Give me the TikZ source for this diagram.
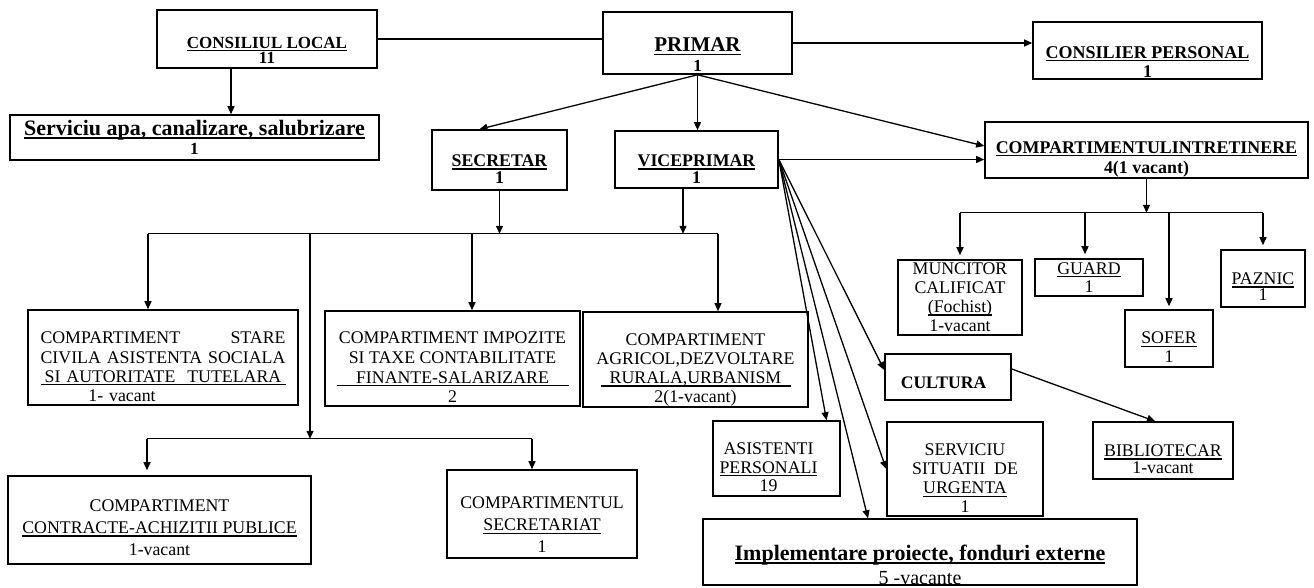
\documentclass[tikz,border=0pt]{standalone}
\usepackage{fontspec}
\setmainfont{Liberation Serif}
\usetikzlibrary{arrows.meta,calc}
\newsavebox\ulbox
\newcommand\uln[1]{\leavevmode\sbox\ulbox{#1}\rlap{\rule[-3pt]{\wd\ulbox}{1.4pt}}\usebox\ulbox}
\newcommand\ulnw[2]{\leavevmode\sbox\ulbox{\makebox[#1]{#2}}\rlap{\rule[-3pt]{\wd\ulbox}{1.4pt}}\usebox\ulbox}
\begin{document}
\begin{tikzpicture}[x=1pt,y=-1pt,
  box/.style={draw, line width=1.6pt, inner sep=0pt},
  fs/.style 2 args={align=center, inner sep=0pt, font=\fontsize{#1}{#2}\selectfont},
  fb/.style 2 args={align=center, inner sep=0pt, font=\fontsize{#1}{#2}\selectfont\bfseries},
  ln/.style={line width=1.3pt},
  arr/.style={ln, -{Triangle[length=8pt,width=7pt]}}]
\useasboundingbox (0,0) rectangle (1314,587);

% ---- boxes ----
\node[box, minimum width=220pt, minimum height=58pt] (cl) at (267,39) {};
\node[fb={17}{14}] at ([yshift=-11pt]cl.center) {\uln{CONSILIUL LOCAL}\\11};

\node[box, minimum width=369pt, minimum height=45pt] (sa) at (194.5,137.5) {};
\node[fb={22}{19}] at (sa.center) {\uln{Serviciu apa, canalizare, salubrizare}\\{\fontsize{17}{19}\selectfont 1}};

\node[box, minimum width=189pt, minimum height=62pt] (pr) at (697.5,43) {};
\node[fb={21}{20}] at ([yshift=-12pt]pr.center) {\uln{PRIMAR}\\{\fontsize{17}{20}\selectfont 1}};

\node[box, minimum width=229pt, minimum height=57pt] (cp) at (1147.5,50.5) {};
\node[fb={18}{19}] at ([yshift=-11.5pt]cp.center) {\uln{CONSILIER PERSONAL}\\1};

\node[box, minimum width=135pt, minimum height=60pt] (sec) at (499.5,160) {};
\node[fb={17.8}{17}] at ([yshift=-9.5pt]sec.center) {\uln{SECRETAR}\\1};

\node[box, minimum width=163pt, minimum height=57pt] (vp) at (696.5,159.5) {};
\node[fb={17.8}{17}] at ([yshift=-10pt]vp.center) {\uln{VICEPRIMAR}\\1};

\node[box, minimum width=323pt, minimum height=56pt] (ci) at (1146.5,150) {};
\node[fb={17.9}{20}] at ([yshift=-9pt]ci.center) {\uln{COMPARTIMENTULINTRETINERE}\\4(1 vacant)};

\node[box, minimum width=124pt, minimum height=75pt] (mc) at (960,297.5) {};
\node[fs={17.8}{19}] at (mc.center) {MUNCITOR\\CALIFICAT\\\uln{(Fochist)}\\1-vacant};

\node[box, minimum width=108pt, minimum height=37pt] (gu) at (1089,277.5) {};
\node[fs={17.8}{18}] at (gu.center) {\uln{GUARD}\\1};

\node[box, minimum width=84pt, minimum height=57pt] (pz) at (1263,278.5) {};
\node[fs={17.8}{16}] at ([yshift=-8.5pt]pz.center) {\uln{PAZNIC}\\1};

\node[box, minimum width=88pt, minimum height=57pt] (so) at (1169,338.5) {};
\node[fs={17.8}{19}] at ([yshift=-9pt]so.center) {\uln{SOFER}\\1};

\node[box, minimum width=126pt, minimum height=46pt] (cu) at (948,377) {};
\node[fb={17.6}{19}] at ([xshift=-4.5pt,yshift=-5.5pt]cu.center) {CULTURA};

\node[box, minimum width=140pt, minimum height=57pt] (bi) at (1163,450.5) {};
\node[fs={17.8}{17}] at ([yshift=-9pt]bi.center) {\uln{BIBLIOTECAR}\\1-vacant};

\node[box, minimum width=127pt, minimum height=75pt] (as) at (776.5,458.5) {};
\node[fs={17.8}{18.5}] at ([xshift=-8pt,yshift=-9pt]as.center) {ASISTENTI\\\uln{PERSONALI}\\19};

\node[box, minimum width=156pt, minimum height=94pt] (ss) at (965,469) {};
\node[fs={17.8}{19}] at ([yshift=-9.5pt]ss.center) {SERVICIU\\SITUATII\ \ DE\\\uln{URGENTA}\\1};

\node[box, minimum width=434pt, minimum height=66pt] (ip) at (920,552) {};
\node[fb={22}{24}] at ([yshift=-13pt]ip.center) {\uln{Implementare proiecte, fonduri externe}\\{\fontsize{20}{24}\selectfont\mdseries 5 -vacante}};

\node[box, minimum width=270pt, minimum height=95pt] (scv) at (163,357.5) {};
\node[fs={17.8}{19.3}, text width=245pt] at ([yshift=-9.5pt]scv.center) {COMPARTIMENT\hfill STARE\\CIVILA ASISTENTA SOCIALA\\\ulnw{245pt}{SI AUTORITATE\ \ TUTELARA}\\\hspace*{-82pt}1- vacant};

\node[box, minimum width=255pt, minimum height=95pt] (imp) at (452.5,358.5) {};
\node[fs={17.8}{19.7}] at ([yshift=-9pt]imp.center) {COMPARTIMENT IMPOZITE\\SI TAXE CONTABILITATE\\\ulnw{232pt}{FINANTE-SALARIZARE}\\2};

\node[box, minimum width=225pt, minimum height=95pt] (agr) at (695.5,359.5) {};
\node[fs={17.8}{19.3}] at ([yshift=-10.5pt]agr.center) {COMPARTIMENT\\AGRICOL,DEZVOLTARE\\\ulnw{190pt}{RURALA,URBANISM}\\2(1-vacant)};

\node[box, minimum width=303pt, minimum height=88pt] (con) at (159.5,520) {};
\node[fs={17.8}{22}] at ([yshift=-8pt]con.center) {COMPARTIMENT\\\uln{CONTRACTE-ACHIZITII PUBLICE}\\1-vacant};

\node[box, minimum width=190pt, minimum height=88pt] (sct) at (542,514) {};
\node[fs={17.8}{22}] at ([yshift=-11pt]sct.center) {COMPARTIMENTUL\\\uln{SECRETARIAT}\\1};

% ---- connectors ----
\draw[ln] (cl.east) -- (cl.east -| pr.west);
\draw[arr] (pr.east) -- (pr.east -| cp.west);
\draw[arr] ([xshift=-36pt]cl.south) -- ([xshift=-36pt]cl.south |- sa.north);

\draw[arr] (pr.south) -- ([xshift=-20pt]sec.north);
\draw[arr] (pr.south) -- (pr.south |- vp.north);
\draw[arr] (pr.south) -- ([yshift=4pt]ci.west);
\draw[arr] (vp.east) -- (vp.east -| ci.west);

\draw[arr] (vp.east) -- ([xshift=50pt]as.north);
\draw[arr] (vp.east) -- ([xshift=-52pt]ip.north);
\draw[arr] (vp.east) -- (ss.west);
\draw[arr] (vp.east) -- ([yshift=7pt]cu.west);
\draw[arr] ([yshift=8pt]cu.east) -- ([xshift=-8pt]bi.north);

\coordinate (cib) at ([yshift=-34pt]ci.south);
\draw[arr] (ci.south) -- (cib);
\draw[ln] (mc.north |- cib) -- (pz.north |- cib);
\draw[arr] (mc.north |- cib) -- ([yshift=4pt]mc.north);
\draw[arr] ([xshift=-4pt]gu.north |- cib) -- ([xshift=-4pt,yshift=4pt]gu.north);
\draw[arr] (so.north |- cib) -- ([yshift=3pt]so.north);
\draw[arr] (pz.north |- cib) -- ([yshift=4pt]pz.north);

\coordinate (sb) at ([yshift=-43pt]sec.south);
\draw[arr] (sec.south) -- (sb);
\draw[arr] ([xshift=-13.5pt]vp.south) -- ([xshift=-13.5pt]vp.south |- sb);
\draw[ln] ([xshift=-15pt]scv.north |- sb) -- ([xshift=22.5pt]agr.north |- sb);
\draw[arr] ([xshift=-15pt]scv.north |- sb) -- ([xshift=-15pt]scv.north);
\draw[arr] ([xshift=19.5pt]imp.north |- sb) -- ([xshift=19.5pt]imp.north);
\draw[arr] ([xshift=22.5pt]agr.north |- sb) -- ([xshift=22.5pt]agr.north);

\coordinate (lb) at ($(sb)+(-189.5,205)$);
\draw[arr] (sb -| lb) -- (lb);
\draw[ln] ([xshift=-12.5pt]con.north |- lb) -- ([xshift=-10pt]sct.north |- lb);
\draw[arr] ([xshift=-12.5pt]con.north |- lb) -- ([xshift=-12.5pt,yshift=5pt]con.north);
\draw[arr] ([xshift=-10pt]sct.north |- lb) -- ([xshift=-10pt]sct.north);
\end{tikzpicture}
\end{document}
